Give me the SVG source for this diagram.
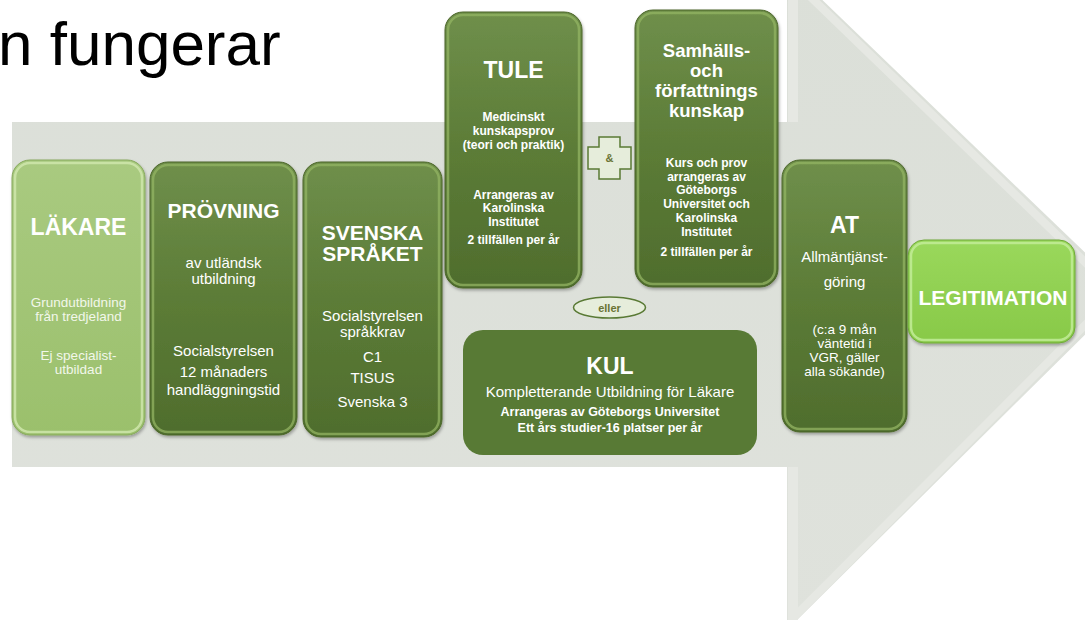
<svg xmlns="http://www.w3.org/2000/svg" width="1085" height="620" viewBox="0 0 1085 620">
  <defs>
    <linearGradient id="gDark" x1="0" y1="0" x2="0" y2="1">
      <stop offset="0" stop-color="#6f8f4b"/>
      <stop offset="0.5" stop-color="#5c7c37"/>
      <stop offset="1" stop-color="#4f6d2d"/>
    </linearGradient>
    <linearGradient id="gLight" x1="0" y1="0" x2="0" y2="1">
      <stop offset="0" stop-color="#a9ca80"/>
      <stop offset="1" stop-color="#9bc06c"/>
    </linearGradient>
    <linearGradient id="gLegit" x1="0" y1="0" x2="0" y2="1">
      <stop offset="0" stop-color="#9ad85c"/>
      <stop offset="1" stop-color="#88c948"/>
    </linearGradient>
    <linearGradient id="gArrow" x1="0" y1="0" x2="0" y2="1">
      <stop offset="0" stop-color="#dbdfd8"/>
      <stop offset="1" stop-color="#dfe2dc"/>
    </linearGradient>
    <filter id="sh" x="-10%" y="-10%" width="125%" height="125%">
      <feDropShadow dx="1" dy="2" stdDeviation="1.5" flood-color="#000" flood-opacity="0.3"/>
    </filter>
    <style>
      .t{font-family:"Liberation Sans",Arial,Helvetica,sans-serif;fill:#ffffff;text-anchor:middle}
      .h23{font-size:23px;font-weight:bold}
      .h21{font-size:21px;font-weight:bold}
      .h19{font-size:18.5px;font-weight:bold}
      .r15{font-size:15px}
      .r14{font-size:13.5px}
      .r13{font-size:13.5px;fill:#f2f7ea}
      .b12{font-size:12px;font-weight:bold}
      .b125{font-size:12.5px;font-weight:bold}
      .dark{fill:url(#gDark);stroke:#4a6528;stroke-width:1;filter:url(#sh)}
      .light{fill:url(#gLight);stroke:#86a85c;stroke-width:1;filter:url(#sh)}
      .legit{fill:url(#gLegit);stroke:#6fa83a;stroke-width:1;filter:url(#sh)}
      .rimD{fill:none;stroke:#93b463;stroke-width:2.5;stroke-opacity:0.75}
      .rimL{fill:none;stroke:#cfe6ab;stroke-width:2.5;stroke-opacity:0.85}
      .rimG{fill:none;stroke:#c2ec98;stroke-width:2.5;stroke-opacity:0.85}
      .sym{fill:#e6eddb;stroke:#5a7a35;stroke-width:1.5}
      .symt{font-family:"Liberation Sans",Arial,sans-serif;font-weight:bold;fill:#6a7434;text-anchor:middle}
    </style>
  </defs>

  <rect x="0" y="0" width="1085" height="620" fill="#ffffff"/>

  <g id="title">
    <text x="-2" y="65" font-family="Liberation Sans, Arial, sans-serif" font-size="62" fill="#000000">n fungerar</text>
  </g>

  <g id="arrow">
    <path d="M12,122 H787 V-34 L1127,293 L787,630 V467 H12 Z" fill="url(#gArrow)"/>
    <path d="M793,-20 L1117,293 L793,618" fill="none" stroke="#e6e8e3" stroke-width="8"/>
    <line x1="793" y1="-10" x2="793" y2="122" stroke="#e6e8e3" stroke-width="10"/>
    <line x1="793" y1="467" x2="793" y2="620" stroke="#e6e8e3" stroke-width="10"/>
  </g>

  <g id="connectors">
    <g id="and-symbol">
      <path class="sym" d="M599,137 H620 V147 H631 V169 H620 V179 H599 V169 H588 V147 H599 Z"/>
      <text class="symt" x="609.5" y="162" font-size="11">&amp;</text>
    </g>
    <g id="or-symbol">
      <ellipse class="sym" cx="609.5" cy="307.5" rx="36" ry="10.5"/>
      <text class="symt" x="609.5" y="311.5" font-size="11">eller</text>
    </g>
  </g>

  <g id="lakare">
    <rect class="light" x="12" y="160" width="133" height="275" rx="18"/>
    <rect class="rimL" x="15" y="163" width="127" height="269" rx="15"/>
    <text class="t h23" x="78.5" y="235">LÄKARE</text>
    <text class="t r13" x="78.5" y="307">Grundutbildning</text>
    <text class="t r13" x="78.5" y="321">från tredjeland</text>
    <text class="t r13" x="78.5" y="360">Ej specialist-</text>
    <text class="t r13" x="78.5" y="374">utbildad</text>
  </g>

  <g id="provning">
    <rect class="dark" x="150" y="162" width="147" height="273" rx="18"/>
    <rect class="rimD" x="153" y="165" width="141" height="267" rx="15"/>
    <text class="t h21" x="223.5" y="217.5">PRÖVNING</text>
    <text class="t r15" x="223.5" y="268">av utländsk</text>
    <text class="t r15" x="223.5" y="284">utbildning</text>
    <text class="t r15" x="223.5" y="356">Socialstyrelsen</text>
    <text class="t r15" x="223.5" y="377">12 månaders</text>
    <text class="t r15" x="223.5" y="395">handläggningstid</text>
  </g>

  <g id="svenska">
    <rect class="dark" x="303" y="162" width="139" height="275" rx="18"/>
    <rect class="rimD" x="306" y="165" width="133" height="269" rx="15"/>
    <text class="t h21" x="372.5" y="239.5">SVENSKA</text>
    <text class="t h21" x="372.5" y="260.5">SPRÅKET</text>
    <text class="t r15" x="372.5" y="321">Socialstyrelsen</text>
    <text class="t r15" x="372.5" y="337">språkkrav</text>
    <text class="t r15" x="372.5" y="362">C1</text>
    <text class="t r15" x="372.5" y="383">TISUS</text>
    <text class="t r15" x="372.5" y="407">Svenska 3</text>
  </g>

  <g id="tule">
    <rect class="dark" x="445" y="12" width="137" height="276" rx="18"/>
    <rect class="rimD" x="448" y="15" width="131" height="270" rx="15"/>
    <text class="t h23" x="513.5" y="78">TULE</text>
    <text class="t b12" x="513.5" y="121">Medicinskt</text>
    <text class="t b12" x="513.5" y="135">kunskapsprov</text>
    <text class="t b12" x="513.5" y="149">(teori och praktik)</text>
    <text class="t b12" x="513.5" y="199">Arrangeras av</text>
    <text class="t b12" x="513.5" y="212">Karolinska</text>
    <text class="t b12" x="513.5" y="226">Institutet</text>
    <text class="t b12" x="513.5" y="244">2 tillfällen per år</text>
  </g>

  <g id="samhalls">
    <rect class="dark" x="635" y="10" width="143" height="277" rx="18"/>
    <rect class="rimD" x="638" y="13" width="137" height="271" rx="15"/>
    <text class="t h19" x="706.5" y="57">Samhälls-</text>
    <text class="t h19" x="706.5" y="77">och</text>
    <text class="t h19" x="706.5" y="97">författnings</text>
    <text class="t h19" x="706.5" y="117">kunskap</text>
    <text class="t b12" x="706.5" y="167">Kurs och prov</text>
    <text class="t b12" x="706.5" y="181">arrangeras av</text>
    <text class="t b12" x="706.5" y="194">Göteborgs</text>
    <text class="t b12" x="706.5" y="208">Universitet och</text>
    <text class="t b12" x="706.5" y="222">Karolinska</text>
    <text class="t b12" x="706.5" y="236">Institutet</text>
    <text class="t b12" x="706.5" y="256">2 tillfällen per år</text>
  </g>

  <g id="kul">
    <rect x="463" y="330" width="294" height="125" rx="20" fill="#587a35"/>
    <text class="t h23" x="610" y="374">KUL</text>
    <text class="t r15" x="610" y="397">Kompletterande Utbildning för Läkare</text>
    <text class="t b125" x="610" y="415.5">Arrangeras av Göteborgs Universitet</text>
    <text class="t b125" x="610" y="431.5">Ett års studier-16 platser per år</text>
  </g>

  <g id="at">
    <rect class="dark" x="782" y="160" width="125" height="272" rx="18"/>
    <rect class="rimD" x="785" y="163" width="119" height="266" rx="15"/>
    <text class="t h23" x="844.5" y="233">AT</text>
    <text class="t r15" x="844.5" y="262">Allmäntjänst-</text>
    <text class="t r15" x="844.5" y="287">göring</text>
    <text class="t r14" x="844.5" y="334">(c:a 9 mån</text>
    <text class="t r14" x="844.5" y="348">väntetid i</text>
    <text class="t r14" x="844.5" y="362">VGR, gäller</text>
    <text class="t r14" x="844.5" y="376">alla sökande)</text>
  </g>

  <g id="legitimation">
    <rect class="legit" x="908" y="240" width="167" height="103" rx="16"/>
    <rect class="rimG" x="911" y="243" width="161" height="97" rx="13"/>
    <text class="t h21" x="993" y="304.5">LEGITIMATION</text>
  </g>
</svg>
